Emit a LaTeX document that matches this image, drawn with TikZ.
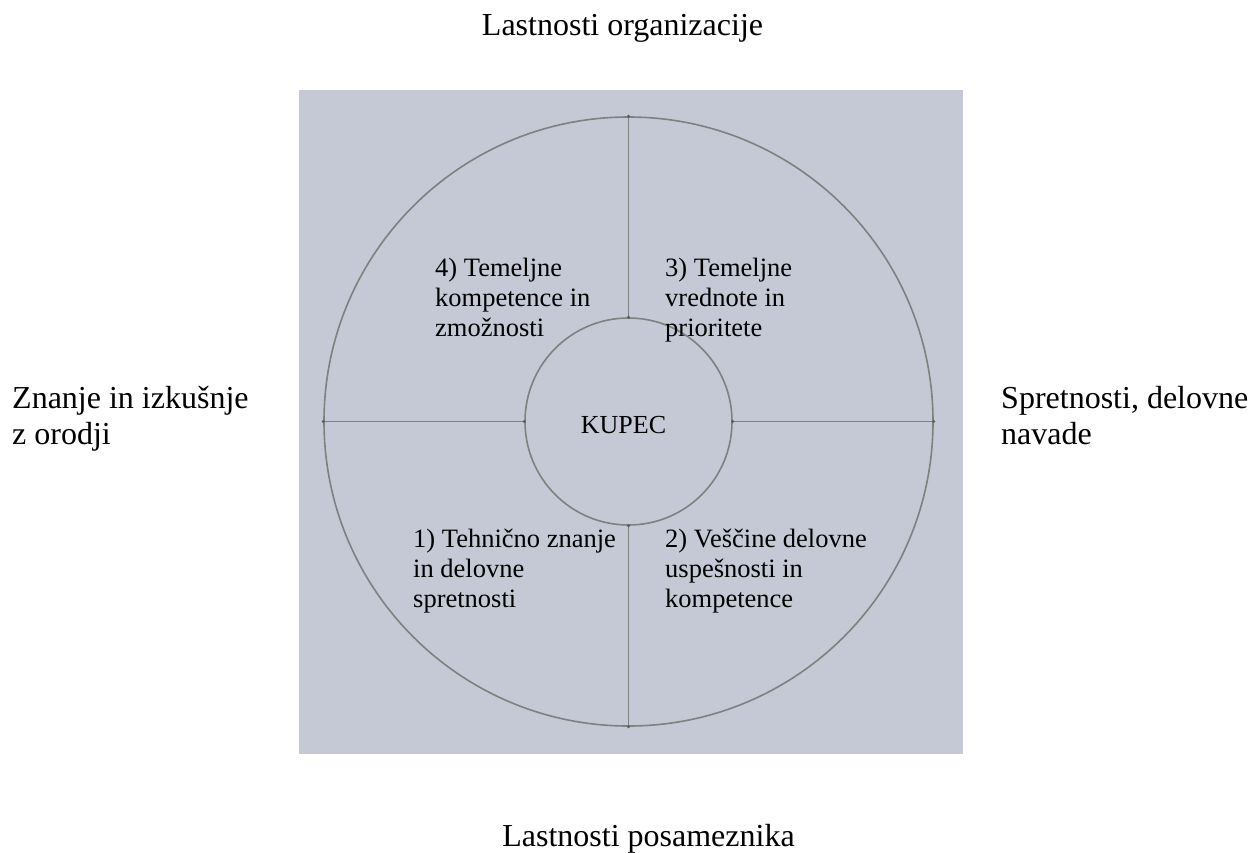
\documentclass[tikz,border=0pt]{standalone}
\usepackage{xcolor}
\usepackage{fontspec}
\setmainfont{Liberation Serif}
\usepackage{tikz}
\definecolor{ozadje}{RGB}{197,201,214}
\definecolor{crtabarva}{RGB}{128,128,128}

\begin{document}
\begin{tikzpicture}[x=1pt,y=-1pt]
    % Styles
    \tikzstyle{crta}=[draw=crtabarva,line width=1.6pt]
    \tikzstyle{krog}=[crta,circle,inner sep=0pt]
    \tikzstyle{pika}=[fill=crtabarva!70!black]
    \tikzstyle{zunanja}=[anchor=base west,align=left,inner sep=0pt,font=\fontsize{32}{36}\selectfont]
    \tikzstyle{notranja}=[anchor=base west,align=left,inner sep=0pt,font=\fontsize{26.5}{29.8}\selectfont]
    % Dimensions
    \def\RayonExt{609}
    \def\RayonInt{207}
    \useasboundingbox (0,0) rectangle (1258,852);
    % Fond
    \fill[ozadje] (299,90) rectangle (963,754);
    % Krogi
    \node[krog,minimum size=\RayonExt] (zunaj) at (628.5,421.5) {};
    \node[krog,minimum size=\RayonInt] (kupec) at (zunaj.center) {};
    \node[font=\fontsize{26}{30}\selectfont,anchor=base] (napis) at (623.5,433) {KUPEC};
    % Crte
    \foreach \smer in {north,south,east,west}{
        \draw[crta] (kupec.\smer) -- (zunaj.\smer);
        \fill[pika] (kupec.\smer) circle (1.6);
        \fill[pika] (zunaj.\smer) circle (1.6);
    }
    % Oznake (sidro = zadnja vrstica)
    \node[zunanja,anchor=base] (org) at (622.5,35) {Lastnosti organizacije};
    \node[zunanja,anchor=base] (pos) at (648.5,846) {Lastnosti posameznika};
    \node[zunanja] (znanje) at (12,444) {Znanje in izkušnje\\z orodji};
    \node[zunanja] (spret) at (1001,444) {Spretnosti, delovne\\navade};
    \node[notranja] (k4) at (435,336) {4) Temeljne\\kompetence in\\zmožnosti};
    \node[notranja] (k3) at (665,336) {3) Temeljne\\vrednote in\\prioritete};
    \node[notranja] (k1) at (413,607) {1) Tehnično znanje\\in delovne\\spretnosti};
    \node[notranja] (k2) at (665,607) {2) Veščine delovne\\uspešnosti in\\kompetence};
\end{tikzpicture}
\end{document}
